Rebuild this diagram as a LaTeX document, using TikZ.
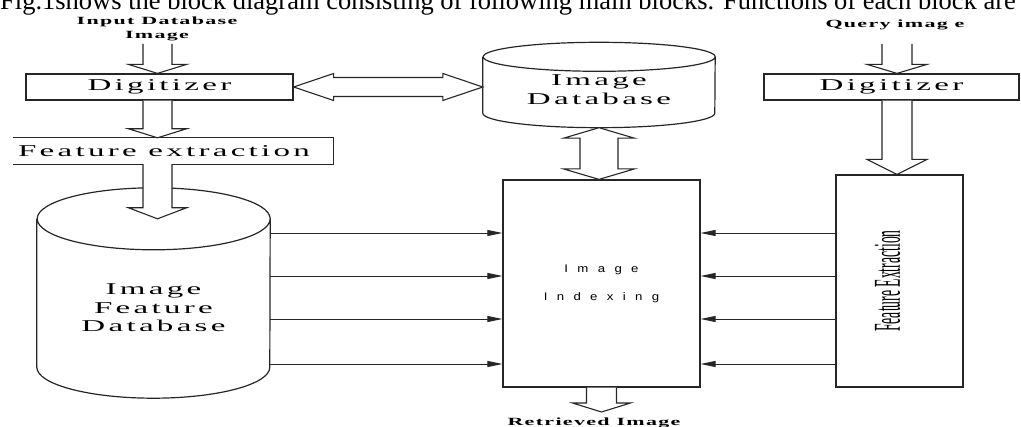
\documentclass[tikz,border=0pt]{standalone}
\usepackage{fontspec}
\setmainfont{Liberation Serif}
\newfontfamily\boxfont[FakeStretch=2.0,LetterSpace=20]{Liberation Serif}
\newfontfamily\notefont[FakeStretch=2.0,LetterSpace=12]{Liberation Serif}
\newfontfamily\idxfont[FakeStretch=1.2,LetterSpace=85]{Liberation Sans}
\newfontfamily\tallfont{Liberation Serif}
\usetikzlibrary{arrows.meta}
\usetikzlibrary{calc}

\newcommand{\blocklabel}{\boxfont\fontsize{16.5}{18.5}\selectfont}
\newcommand{\notelabel}{\notefont\bfseries\fontsize{11}{14}\selectfont}
\newcommand{\idxlabel}{\idxfont\fontsize{11}{28}\selectfont}

% hollow block arrow pointing down: from, to, shaft half, head half, head length
\newcommand{\blockdown}[5]{%
  \draw[blockline] let \p1=(#1), \p2=(#2) in
    (\x1-#3,\y1) -- (\x1-#3,\y2+#5) -- (\x1-#4,\y2+#5) -- (\x1,\y2)
    -- (\x1+#4,\y2+#5) -- (\x1+#3,\y2+#5) -- (\x1+#3,\y1);}
% hollow double block arrow, vertical
\newcommand{\blockvboth}[5]{%
  \draw[blockline] let \p1=(#1), \p2=(#2) in
    (\x1,\y1) -- (\x1+#4,\y1-#5) -- (\x1+#3,\y1-#5) -- (\x1+#3,\y2+#5)
    -- (\x1+#4,\y2+#5) -- (\x1,\y2) -- (\x1-#4,\y2+#5) -- (\x1-#3,\y2+#5)
    -- (\x1-#3,\y1-#5) -- (\x1-#4,\y1-#5) -- cycle;}
% hollow double block arrow, horizontal
\newcommand{\blockhboth}[5]{%
  \draw[blockline] let \p1=(#1), \p2=(#2) in
    (\x1,\y1) -- (\x1+#5,\y1+#4) -- (\x1+#5,\y1+#3) -- (\x2-#5,\y1+#3)
    -- (\x2-#5,\y1+#4) -- (\x2,\y1) -- (\x2-#5,\y1-#4) -- (\x2-#5,\y1-#3)
    -- (\x1+#5,\y1-#3) -- (\x1+#5,\y1-#4) -- cycle;}
% drum outline round a node: node, x radius, y radius
\newcommand{\drum}[3]{%
  \draw[boxline] (#1.north west) -- (#1.south west)
    arc[start angle=180, end angle=360, x radius=#2pt, y radius=#3pt]
    -- (#1.north east)
    arc[start angle=0, end angle=360, x radius=#2pt, y radius=#3pt];}

\tikzset{
  boxline/.style={draw=inkgray, line width=1.2pt},
  blockline/.style={draw=inkgray, line width=1.1pt, fill=white},
  flow/.style={draw=inkgray, line width=0.8pt, -{Triangle[length=15pt,width=6pt]}},
  procbox/.style={boxline, minimum height=26pt, inner sep=0pt, font=\blocklabel},
  bare/.style={inner sep=0pt}
}

\begin{document}
\begin{tikzpicture}[x=1pt,y=-1pt]
        \definecolor{inkgray}{gray}{0.15}
        \useasboundingbox (0,0) rectangle (1021,427);

        % running text above the figure
        \node[anchor=base west, inner sep=0pt, font=\fontsize{26.5}{30}\selectfont] (caption) at (0,10)
          {Fig.1shows the block diagram consisting of following main blocks. Functions of each block are};

        % left column
        \node[font=\notelabel, align=center] (inimg) at (157,29) {Input Database\\Image};
        \coordinate (inimgfoot) at (157.5,44);
        \node[procbox, minimum width=267pt] (digl) at (159.5,87) {Digitizer};
        \node[bare, minimum width=320pt, minimum height=26pt] (fextl) at (173,151) {};
        \draw[boxline] (fextl.north west) -- (fextl.north east) -- (fextl.south east) -- (fextl.south west);
        \node[font=\blocklabel] (fextltxt) at ([xshift=-9pt]fextl.center) {Feature extraction};
        \node[bare, minimum width=233pt, minimum height=148pt] (featdb) at (153.5,293) {};
        \drum{featdb}{116.5}{31}
        \node[font=\blocklabel, align=center] (featdbtxt) at ([yshift=-15pt]featdb.center) {Image\\Feature\\Database};

        % middle column
        \node[bare, minimum width=232pt, minimum height=56pt] (imgdb) at (599,85) {};
        \drum{imgdb}{116}{14.5}
        \node[font=\blocklabel, align=center] (imgdbtxt) at ([yshift=-4.5pt]imgdb.center) {Image\\Database};
        \node[boxline, minimum width=197pt, minimum height=207pt, inner sep=0pt, align=center, font=\idxlabel] (idx) at (601.5,283.5) {Image\\Indexing};
        \node[font=\notelabel, anchor=base] (rimg) at (594,426) {Retrieved Image};
        \coordinate (rimgtip) at (601.5,412);

        % right column
        \node[font=\notelabel] (qimg) at (895,25) {Query imag e};
        \coordinate (qimgfoot) at (897,44);
        \node[procbox, minimum width=255pt] (digr) at (891.5,87) {Digitizer};
        \node[boxline, minimum width=127pt, minimum height=212pt, inner sep=0pt] (fextr) at (899.5,281) {};
        \node[rotate=90, font=\tallfont\fontsize{38}{38}\selectfont] (fextrtxt) at ([xshift=-12pt]fextr.center)
          {\scalebox{0.36}[1]{Feature Extraction}};

        % block arrows
        \blockdown{inimgfoot}{digl.north}{14.5}{29}{9}
        \blockdown{inimgfoot |- digl.south}{fextl.north}{14.5}{29}{9}
        \blockdown{inimgfoot |- fextl.south}{featdb.north}{14.5}{29}{11}
        \blockhboth{digl.east}{imgdb.west |- digl.east}{9.5}{13.5}{40}
        \blockvboth{[yshift=-14.5pt]imgdb.south}{idx.north}{19}{35.5}{10.5}
        \blockdown{qimgfoot}{digr.north}{15}{30}{9}
        \blockdown{qimgfoot |- digr.south}{fextr.north}{15}{30}{15}
        \blockdown{idx.south}{rimgtip}{15}{29}{9}

        % feature lines into the index
        \foreach \yy in {233,276,319,364} {
          \draw[flow] (featdb.east |- 0,\yy) -- (idx.west |- 0,\yy);
          \draw[flow] (fextr.west |- 0,\yy) -- (idx.east |- 0,\yy);
        }
\end{tikzpicture}
\end{document}
